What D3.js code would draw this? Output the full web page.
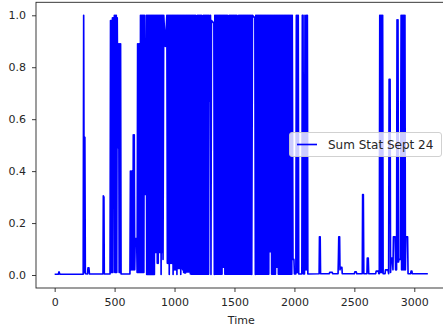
<!DOCTYPE html>
<html>
<head>
<meta charset="utf-8">
<script src="https://cdn.jsdelivr.net/npm/d3@7"></script>
<style>
  html, body { margin: 0; padding: 0; background: #ffffff; }
  svg { display: block; }
  text { font-family: "DejaVu Sans", sans-serif; fill: #262626; }
</style>
</head>
<body>
<svg id="chart" width="443" height="330"></svg>
<script>
// ---- data ----
const seriesName = "Sum Stat Sept 24";
const xLabel = "Time";
const xTicks = [0, 500, 1000, 1500, 2000, 2500, 3000];
const yTicks = [0.0, 0.2, 0.4, 0.6, 0.8, 1.0];

const time = [
  0, 30, 36, 44, 238, 242, 247, 252, 256, 274, 278, 286, 290, 403, 406, 411, 414,
  462, 466, 470, 474, 478, 482, 486, 490, 494, 498, 502, 506, 510, 514, 518, 522, 528, 534, 538, 542, 546, 550, 554,
  628, 632, 636, 640, 644, 648, 652, 656, 660, 664, 668, 672, 684, 688, 692, 696, 700, 704, 708, 712,
  716, 720, 724, 728, 732, 736, 740, 744, 748, 756, 764,
  768, 772, 776, 780, 784, 788, 792, 796, 800, 804, 808, 812, 816, 820, 824, 828,
  832, 836, 840, 844, 848, 852, 856, 860, 864, 868, 872, 876, 880, 884, 888, 892,
  896, 900, 904, 910, 923, 936, 940, 944, 948, 952, 956, 960, 964, 968, 972, 976,
  980, 984, 988, 992, 996, 1000, 1004, 1008, 1012, 1016, 1020, 1024, 1028, 1032, 1036, 1040,
  1044, 1048, 1052, 1056, 1060, 1064, 1068, 1072, 1076, 1080, 1084, 1088, 1092, 1096, 1100, 1104,
  1108, 1112, 1116, 1120, 1124, 1128, 1132, 1136, 1140, 1144, 1148, 1152, 1156, 1160, 1164, 1168,
  1172, 1176, 1180, 1184, 1188, 1192, 1196, 1200, 1204, 1208, 1212, 1216, 1220, 1224, 1228, 1232,
  1236, 1240, 1244, 1248, 1252, 1256, 1260, 1264, 1268, 1272, 1276, 1280, 1284, 1288, 1294, 1300,
  1304, 1308, 1328, 1332, 1336, 1340, 1344, 1348, 1352, 1356, 1360, 1364, 1368, 1372, 1376, 1380,
  1384, 1388, 1392, 1396, 1400, 1404, 1408, 1412, 1416, 1420, 1424, 1428, 1432, 1436, 1440, 1444,
  1448, 1452, 1456, 1460, 1464, 1468, 1472, 1476, 1480, 1484, 1488, 1492, 1496, 1500, 1504, 1508,
  1512, 1516, 1520, 1524, 1528, 1532, 1536, 1540, 1544, 1548, 1552, 1556, 1560, 1564, 1568, 1572,
  1576, 1580, 1584, 1588, 1592, 1596, 1600, 1604, 1608, 1612, 1616, 1620, 1624, 1628, 1632, 1636,
  1640, 1644, 1650, 1670, 1674, 1678, 1682, 1686, 1690, 1694, 1698, 1702, 1706, 1710, 1714, 1718,
  1722, 1726, 1730, 1734, 1738, 1742, 1746, 1750, 1754, 1758, 1762, 1766, 1770, 1774, 1778, 1782,
  1786, 1790, 1794, 1798, 1802, 1806, 1810, 1814, 1818, 1822, 1826, 1830, 1834, 1838, 1842, 1846,
  1850, 1854, 1858, 1862, 1866, 1870, 1874, 1878, 1882, 1886, 1890, 1894, 1898, 1902, 1906, 1910,
  1914, 1918, 1922, 1926, 1930, 1934, 1938, 1942, 1946, 1950, 1954, 1958, 1962, 1966, 1970, 1974,
  1978, 1982,
  1988, 1996, 2000, 2012, 2016, 2020, 2024, 2028, 2032, 2036, 2062, 2066, 2072, 2076,
  2084, 2088, 2090, 2094, 2096, 2100, 2104, 2108, 2112,
  2206, 2209, 2215, 2218, 2290, 2294, 2316, 2320, 2364, 2367, 2370, 2377, 2380, 2386, 2396, 2399,
  2500, 2504, 2516, 2520, 2566, 2569, 2575, 2579, 2605, 2608, 2616, 2620, 2678, 2682, 2700, 2704,
  2708, 2712, 2716, 2720, 2724, 2728, 2732, 2736, 2740,
  2756, 2760, 2780, 2786, 2790, 2798, 2802, 2808, 2818, 2822, 2826, 2840, 2844,
  2852, 2856, 2860, 2864, 2868, 2872, 2884, 2890, 2894, 2898, 2902, 2906, 2910, 2914, 2918, 2922, 2926, 2930, 2944, 2948,
  2970, 2973, 2980, 2983, 3113
];

const sumStat = [
  0.003, 0.003, 0.012, 0.003, 0.003, 1.0, 0.01, 0.53, 0.005, 0.004, 0.028, 0.028, 0.004, 0.004, 0.305, 0.3, 0.004,
  0.004, 0.98, 0.01, 0.98, 0.01, 0.99, 0.01, 0.99, 0.53, 1.0, 0.01, 1.0, 0.01, 1.0, 0.01, 0.99, 0.49, 0.89, 0.01, 0.89, 0.01, 0.89, 0.004,
  0.004, 0.40, 0.02, 0.40, 0.02, 0.40, 0.02, 0.54, 0.02, 0.54, 0.02, 0.14, 0.14, 0.01, 0.89, 0.01, 0.89, 0.01, 0.89, 0.01,
  1.0, 0.01, 1.0, 0.01, 1.0, 0.01, 1.0, 0.01, 1.0, 0.31, 1.0,
  0.002, 1.0, 0.002, 1.0, 0.002, 1.0, 0.002, 1.0, 0.002, 1.0, 0.002, 1.0, 0.002, 1.0, 0.002, 1.0,
  0.002, 1.0, 0.087, 1.0, 0.087, 1.0, 0.045, 1.0, 0.045, 1.0, 0.087, 1.0, 0.087, 1.0, 0.002, 1.0,
  0.087, 1.0, 0.06, 1.0, 0.88, 1.0, 0.045, 1.0, 0.045, 1.0, 0.002, 1.0, 0.045, 1.0, 0.045, 1.0,
  0.045, 1.0, 0.002, 1.0, 0.02, 1.0, 0.02, 1.0, 0.02, 1.0, 0.002, 1.0, 0.025, 1.0, 0.025, 1.0,
  0.025, 1.0, 0.002, 1.0, 0.025, 1.0, 0.02, 1.0, 0.01, 1.0, 0.008, 1.0, 0.008, 1.0, 0.012, 1.0,
  0.012, 1.0, 0.012, 1.0, 0.012, 1.0, 0.004, 1.0, 0.003, 1.0, 0.003, 1.0, 0.003, 1.0, 0.003, 1.0,
  0.003, 1.0, 0.003, 0.997, 0.003, 1.0, 0.003, 1.0, 0.003, 1.0, 0.003, 1.0, 0.003, 1.0, 0.003, 0.998,
  0.003, 1.0, 0.003, 1.0, 0.003, 1.0, 0.003, 1.0, 0.003, 1.0, 0.003, 1.0, 0.003, 1.0, 0.67, 1.0,
  0.002, 0.98, 0.97, 0.002, 1.0, 0.003, 1.0, 0.003, 1.0, 0.003, 1.0, 0.003, 1.0, 0.003, 1.0, 0.003,
  1.0, 0.003, 1.0, 0.003, 1.0, 0.03, 1.0, 0.03, 1.0, 0.003, 1.0, 0.003, 1.0, 0.003, 1.0, 0.003,
  0.998, 0.003, 1.0, 0.003, 1.0, 0.003, 1.0, 0.003, 1.0, 0.003, 1.0, 0.003, 1.0, 0.003, 1.0, 0.003,
  1.0, 0.003, 1.0, 0.003, 0.997, 0.003, 1.0, 0.003, 1.0, 0.003, 1.0, 0.003, 1.0, 0.003, 1.0, 0.003,
  1.0, 0.003, 1.0, 0.003, 1.0, 0.003, 1.0, 0.003, 1.0, 0.003, 1.0, 0.003, 1.0, 0.003, 1.0, 0.003,
  1.0, 0.002, 1.0, 0.99, 0.002, 1.0, 0.003, 1.0, 0.003, 1.0, 0.003, 1.0, 0.003, 1.0, 0.003, 1.0,
  0.003, 1.0, 0.003, 1.0, 0.003, 1.0, 0.003, 1.0, 0.003, 1.0, 0.003, 1.0, 0.003, 1.0, 0.003, 1.0,
  0.003, 1.0, 0.09, 1.0, 0.09, 1.0, 0.003, 1.0, 0.003, 1.0, 0.003, 1.0, 0.003, 1.0, 0.003, 1.0,
  0.03, 1.0, 0.03, 1.0, 0.003, 1.0, 0.003, 1.0, 0.003, 1.0, 0.003, 1.0, 0.003, 1.0, 0.003, 1.0,
  0.003, 1.0, 0.003, 1.0, 0.003, 1.0, 0.003, 1.0, 0.003, 1.0, 0.003, 1.0, 0.003, 1.0, 0.003, 1.0,
  0.003, 1.0,
  0.06, 0.06, 0.004, 0.004, 1.0, 0.01, 1.0, 0.01, 1.0, 0.004, 0.004, 1.0, 1.0, 0.004,
  0.004, 1.0, 0.02, 0.905, 0.02, 1.0, 0.02, 1.0, 0.004,
  0.005, 0.147, 0.147, 0.005, 0.005, 0.01, 0.01, 0.005, 0.005, 0.065, 0.147, 0.147, 0.02, 0.03, 0.03, 0.005,
  0.005, 0.012, 0.012, 0.005, 0.005, 0.31, 0.31, 0.005, 0.005, 0.065, 0.065, 0.005, 0.005, 0.015, 0.015, 0.005,
  0.005, 1.0, 0.01, 1.0, 0.01, 1.0, 0.01, 1.0, 0.005,
  0.005, 0.02, 0.02, 0.005, 0.753, 0.753, 0.01, 0.065, 0.065, 0.02, 0.147, 0.147, 0.02,
  0.02, 0.983, 0.05, 0.983, 0.05, 0.06, 0.06, 1.0, 0.02, 1.0, 0.02, 1.0, 0.02, 1.0, 0.02, 1.0, 0.02, 0.147, 0.147, 0.005,
  0.005, 0.015, 0.015, 0.005, 0.005
];

// ---- layout ----
const plotL = 36, plotR = 446.5, plotT = 2.3, plotB = 288;
const svg = d3.select("#chart");

const x = d3.scaleLinear().domain([-155.65, 3268.65]).range([plotL, plotR]);
const y = d3.scaleLinear().domain([-0.05, 1.05]).range([plotB, plotT]);

const n = Math.min(time.length, sumStat.length);
const points = d3.range(n).map(i => [time[i], sumStat[i]]);

svg.append("defs").append("clipPath").attr("id", "clip")
  .append("rect").attr("x", plotL).attr("y", plotT).attr("width", plotR - plotL).attr("height", plotB - plotT);

// data line
svg.append("path")
  .datum(points)
  .attr("clip-path", "url(#clip)")
  .attr("fill", "none")
  .attr("stroke", "#0000ff")
  .attr("stroke-width", 1.65)
  .attr("stroke-linejoin", "round")
  .attr("d", d3.line().x(d => x(d[0])).y(d => y(d[1])));

// spines
svg.append("rect")
  .attr("x", plotL).attr("y", plotT)
  .attr("width", plotR - plotL).attr("height", plotB - plotT)
  .attr("fill", "none").attr("stroke", "#262626").attr("stroke-width", 0.9);

// x axis
const xAxis = svg.append("g")
  .attr("transform", `translate(0,${plotB})`)
  .call(d3.axisBottom(x).tickValues(xTicks).tickFormat(d3.format("d")).tickSize(4).tickSizeOuter(0).tickPadding(6));
xAxis.select(".domain").remove();
xAxis.selectAll("line").attr("stroke", "#262626").attr("stroke-width", 0.9);
xAxis.selectAll("text").attr("font-size", 11).attr("font-family", "DejaVu Sans").attr("fill", "#262626");

// y axis
const yAxis = svg.append("g")
  .attr("transform", `translate(${plotL},0)`)
  .call(d3.axisLeft(y).tickValues(yTicks).tickFormat(d3.format(".1f")).tickSize(4).tickSizeOuter(0).tickPadding(6));
yAxis.select(".domain").remove();
yAxis.selectAll("line").attr("stroke", "#262626").attr("stroke-width", 0.9);
yAxis.selectAll("text").attr("font-size", 11).attr("font-family", "DejaVu Sans").attr("fill", "#262626");

// x label
svg.append("text")
  .attr("x", (plotL + plotR) / 2).attr("y", 324)
  .attr("text-anchor", "middle")
  .attr("font-size", 11)
  .text(xLabel);

// legend
const lg = svg.append("g");
lg.append("rect")
  .attr("x", 289.5).attr("y", 132.5).attr("width", 152).attr("height", 24)
  .attr("rx", 2.5).attr("ry", 2.5)
  .attr("fill", "#ffffff").attr("fill-opacity", 0.8)
  .attr("stroke", "#cccccc").attr("stroke-width", 0.9);
lg.append("line")
  .attr("x1", 297).attr("x2", 317).attr("y1", 144.5).attr("y2", 144.5)
  .attr("stroke", "#0000ff").attr("stroke-width", 1.65);
lg.append("text")
  .attr("x", 328).attr("y", 148.8)
  .attr("font-size", 12)
  .text(seriesName);
</script>
</body>
</html>
